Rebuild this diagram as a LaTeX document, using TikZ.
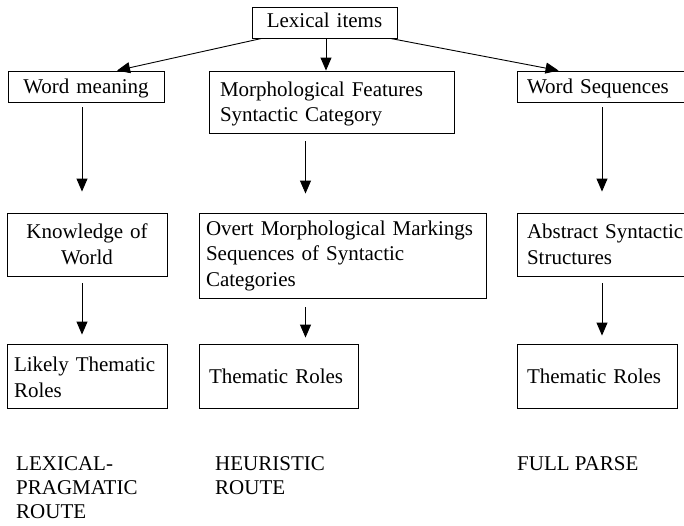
\documentclass[tikz,border=0pt]{standalone}
\usepackage{fontspec}
\setmainfont{Liberation Serif}
\usetikzlibrary{arrows.meta}
\begin{document}
\begin{tikzpicture}[x=1pt,y=-1pt,
  font=\fontsize{21}{25.5}\selectfont,
  box/.style={draw, line width=0.9pt, inner ysep=0pt},
  cbox/.style={box, inner xsep=0pt, align=center},
  lbox/.style={box, align=left},
  lab/.style={inner sep=0pt, align=left, anchor=north west, font=\fontsize{21}{24}\selectfont},
  arr/.style={-{Triangle[length=13pt,width=11pt]}, line width=0.9pt}]
\useasboundingbox (0,0) rectangle (684,525);
\clip (0,0) rectangle (684,525);
% column coordinates for vertical arrows
\coordinate (colA) at (82,0);
\coordinate (colB) at (305.5,0);
\coordinate (colT) at (326,0);
\coordinate (colC) at (602,0);
% row 0
\node[cbox, minimum width=145pt, minimum height=31pt, text width=145pt, text depth=5pt] (lex) at (324.5,22.5) {Lexical items};
% row 1
\node[cbox, minimum width=156pt, minimum height=31pt, text width=156pt, text depth=0pt] (wm) at (86,86.5) {Word meaning};
\node[lbox, minimum width=245pt, minimum height=62pt, inner xsep=11pt, text width=223pt, text height=19pt] (morph) at (331.5,102) {Morphological Features\\Syntactic Category};
\node[lbox, minimum width=183pt, minimum height=31pt, inner xsep=10pt, text width=163pt, text depth=0pt] (ws) at (608.5,86.5) {Word Sequences};
% row 2
\node[cbox, minimum width=160pt, minimum height=63pt, text width=160pt] (kw) at (87,244.5) {Knowledge of\\World};
\node[lbox, minimum width=287pt, minimum height=85pt, inner xsep=7pt, text width=273pt] (overt) at (342.5,255.5) {Overt Morphological Markings\\Sequences of Syntactic\\Categories};
\node[lbox, minimum width=183pt, minimum height=63pt, inner xsep=10pt, text width=163pt] (abs) at (608.5,244.5) {Abstract Syntactic\\Structures};
% row 3
\node[lbox, minimum width=160pt, minimum height=64pt, inner xsep=7pt, text width=146pt, text height=17pt] (likely) at (87,376) {Likely Thematic\\Roles};
\node[lbox, minimum width=159pt, minimum height=64pt, inner xsep=10pt, text width=139pt] (tr1) at (278.5,376) {Thematic Roles};
\node[lbox, minimum width=160pt, minimum height=64pt, inner xsep=10pt, text width=140pt] (tr2) at (597,376) {Thematic Roles};
% route labels
\node[lab] (l1) at (16,456) {LEXICAL-\\PRAGMATIC\\ROUTE};
\node[lab] (l2) at (215,456) {HEURISTIC\\ROUTE};
\node[lab] (l3) at (517,456) {FULL PARSE};
% arrows from lexical items
\draw[arr] ([xshift=10pt]lex.south west) -- ([xshift=31pt]wm.north);
\draw[arr] (lex.south -| colT) -- (morph.north -| colT);
\draw[arr] ([xshift=-7pt]lex.south east) -- ([xshift=42pt]ws.north west);
% row 1 -> row 2
\draw[arr, shorten <=5pt, shorten >=21pt] (wm.south -| colA) -- (kw.north -| colA);
\draw[arr, shorten <=8pt, shorten >=19pt] (morph.south -| colB) -- (overt.north -| colB);
\draw[arr, shorten <=5pt, shorten >=21pt] (ws.south -| colC) -- (abs.north -| colC);
% row 2 -> row 3
\draw[arr, shorten <=7pt, shorten >=9pt] (kw.south -| colA) -- (likely.north -| colA);
\draw[arr, shorten <=9pt, shorten >=6pt] (overt.south -| colB) -- (tr1.north -| colB);
\draw[arr, shorten <=7pt, shorten >=8pt] (abs.south -| colC) -- (tr2.north -| colC);
\end{tikzpicture}
\end{document}
